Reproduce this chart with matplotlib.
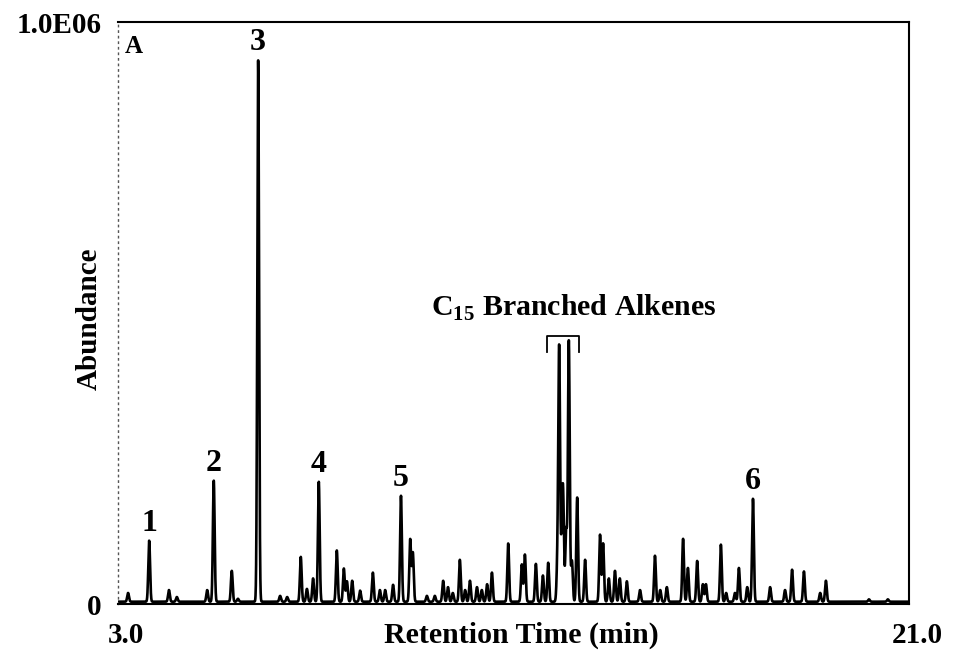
import numpy as np
import matplotlib.pyplot as plt
from matplotlib import transforms

plt.rcParams['font.family'] = ['Liberation Serif', 'DejaVu Serif']
plt.rcParams['font.weight'] = 'bold'
plt.rcParams['axes.labelweight'] = 'bold'
plt.rcParams['mathtext.fontset'] = 'custom'
plt.rcParams['mathtext.rm'] = 'Liberation Serif'
plt.rcParams['mathtext.bf'] = 'Liberation Serif:bold'

# peak retention times (min) and heights (abundance, x1e6)
peak_rt = [3.23, 3.71, 4.16, 4.34, 5.03, 5.18, 5.59, 5.73, 6.19, 6.69, 6.85,
           7.16, 7.30, 7.44, 7.57, 7.98, 8.14, 8.21, 8.33, 8.51, 8.80, 8.96,
           9.08, 9.26, 9.44, 9.65, 9.71, 10.03, 10.21, 10.40, 10.51, 10.62,
           10.78, 10.90, 11.01, 11.17, 11.28, 11.40, 11.51, 11.88, 12.19,
           12.26, 12.51, 12.67, 12.79, 13.00, 13.04, 13.10, 13.13, 13.20,
           13.26, 13.33, 13.45, 13.63, 13.97, 14.04, 14.17, 14.31, 14.42,
           14.58, 14.88, 15.22, 15.34, 15.49, 15.86, 15.97, 16.18, 16.31,
           16.38, 16.72, 16.84, 17.04, 17.13, 17.32, 17.45, 17.84, 18.18,
           18.34, 18.61, 18.98, 19.11, 20.09, 20.52]
peak_h = [0.015, 0.105, 0.020, 0.008, 0.020, 0.208, 0.053, 0.005, 0.931, 0.010,
          0.008, 0.077, 0.022, 0.040, 0.206, 0.088, 0.057, 0.035, 0.036, 0.019,
          0.050, 0.020, 0.020, 0.029, 0.182, 0.107, 0.084, 0.010, 0.010, 0.036,
          0.025, 0.015, 0.072, 0.020, 0.036, 0.025, 0.020, 0.030, 0.050, 0.100,
          0.064, 0.081, 0.065, 0.045, 0.067, 0.060, 0.433, 0.090, 0.167, 0.122,
          0.448, 0.070, 0.179, 0.072, 0.115, 0.100, 0.040, 0.053, 0.040, 0.035,
          0.020, 0.079, 0.020, 0.025, 0.108, 0.058, 0.070, 0.030, 0.030, 0.098,
          0.015, 0.015, 0.058, 0.025, 0.177, 0.025, 0.020, 0.055, 0.052, 0.015,
          0.036, 0.004, 0.004]

# numbered compounds: label -> retention time
labels = ['1', '2', '3', '4', '5', '6']
label_rt = [3.71, 5.18, 6.19, 7.57, 9.44, 17.45]

# retention window of the C15 branched alkenes
c15_window = (12.76, 13.49)

baseline = 0.004
t = np.linspace(3.0, 21.0, 8000)
signal = np.full_like(t, baseline)
for rt, h in zip(peak_rt, peak_h):
    signal += h * np.exp(-0.5 * ((t - rt) / 0.02) ** 2)

fig = plt.figure(figsize=(9.56, 6.53), dpi=100)
ax = fig.add_axes([0.1234, 0.0750, 0.8274, 0.8913])
ax.plot(t, signal * 1e6, color='black', lw=1.9)

ax.set_xlim(3.0, 21.0)
ax.set_ylim(0, 1.0e6)
ax.set_xticks([3.0, 21.0])
ax.set_xticklabels(['3.0', '21.0'])
ax.set_yticks([0, 1.0e6])
ax.set_yticklabels(['0', '1.0E06'])
ax.tick_params(length=0, labelsize=21)
ax.tick_params(axis='x', pad=13)
ax.tick_params(axis='y', pad=12)
shift = transforms.ScaledTranslation(8 / 100, 0, fig.dpi_scale_trans)
for lab in ax.get_xticklabels():
    lab.set_transform(lab.get_transform() + shift)

for side in ['top', 'right', 'bottom']:
    ax.spines[side].set_linewidth(1.5)
ax.spines['left'].set_linestyle((0, (1, 3)))
ax.spines['left'].set_color('#555555')
ax.spines['left'].set_linewidth(1.0)

ax.set_xlabel('Retention Time (min)', fontsize=21.5)
ax.xaxis.set_label_coords(0.51, -0.03)
ax.set_ylabel('Abundance', fontsize=21)
ax.yaxis.set_label_coords(-0.019, 0.49)

ax.text(0.009, 0.978, 'A', transform=ax.transAxes, fontsize=18,
        fontweight='bold', ha='left', va='top')

for lab, rt in zip(labels, label_rt):
    h = peak_h[peak_rt.index(rt)] + baseline
    ax.annotate(lab, (rt, h * 1e6), xytext=(0, 3), textcoords='offset pixels',
                ha='center', va='bottom', fontsize=23)

# bracket over the two C15 branched alkene peaks
x0, x1 = c15_window
ax.plot([x0, x0, x1, x1], [0.433e6, 0.46e6, 0.46e6, 0.433e6],
        color='black', lw=1.3)
ax.text(13.37, 0.508e6, r'C$_{\mathbf{15}}$ Branched Alkenes',
        fontsize=21.5, ha='center', va='center')

fig.savefig('out.png', dpi=100)
